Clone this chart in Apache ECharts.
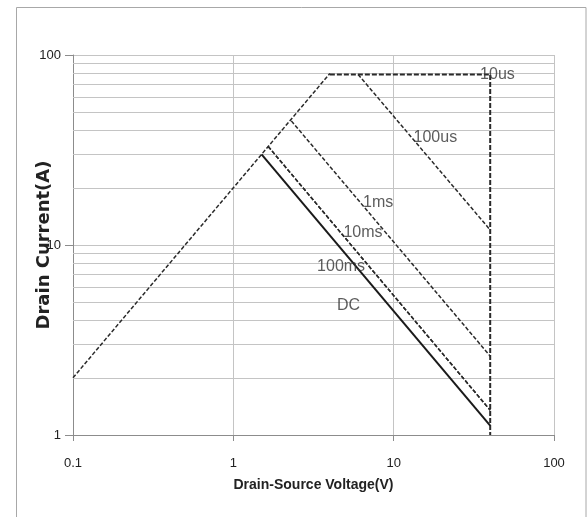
<!DOCTYPE html>
<html>
<head>
<meta charset="utf-8">
<script src="https://cdn.jsdelivr.net/npm/echarts@6/dist/echarts.min.js"></script>
<style>
html,body{margin:0;padding:0;background:#fff;}
#c{width:587px;height:517px;}
</style>
</head>
<body>
<div id="c"></div>
<script>
// Safe operating area data (Vds in V, Id in A)
const limitV = [0.1, 4];
const limitI = [2, 80];
const us10V = [4, 40, 40];
const us10I = [79, 79, 1];
const us100V = [6, 40];
const us100I = [79, 12];
const ms1V = [2.3, 40];
const ms1I = [45, 2.6];
const ms10V = [1.65, 40];
const ms10I = [33, 1.35];
const ms100V = [1.65, 40];
const ms100I = [33, 1.35];
const dcV = [1.5, 40];
const dcI = [30, 1.12];
// curve labels and their anchor positions (data coords)
const labelNames = ['10us', '100us', '1ms', '10ms', '100ms', 'DC'];
const labelV = [44.4, 18.2, 8.0, 6.44, 4.7, 5.23];
const labelI = [78.5, 36.6, 16.8, 11.6, 7.66, 4.78];
// minor horizontal grid values
const minorY = [2, 3, 4, 5, 6, 7, 8, 9, 20, 30, 40, 50, 60, 70, 80, 90];

const pair = (xs, ys) => xs.map((x, i) => [x, ys[i]]);
const sans = "'Liberation Sans', Arial, sans-serif";

const dashStyle = (w, d) => ({ color: '#2a2a2a', width: w, type: d });
const lineSeries = (name, xs, ys, style) => ({
  name, type: 'line', data: pair(xs, ys), showSymbol: false, symbol: 'none', z: 5,
  lineStyle: style
});

const chart = echarts.init(document.getElementById('c'), null, { renderer: 'canvas' });
chart.setOption({
  animation: false,
  backgroundColor: '#fff',
  grid: { left: 73, right: 33, top: 55, bottom: 82 },
  graphic: [{
    type: 'rect',
    shape: { x: 16.5, y: 7.5, width: 569.5, height: 530 },
    style: { fill: 'none', stroke: '#a8a8a8', lineWidth: 1 },
    silent: true
  }],
  xAxis: {
    type: 'log', logBase: 10, min: 0.1, max: 100,
    name: 'Drain-Source Voltage(V)', nameLocation: 'middle', nameGap: 43, nameMoveOverlap: false,
    nameTextStyle: { fontFamily: sans, fontWeight: 'bold', fontSize: 14, color: '#222' },
    axisLine: { show: true, lineStyle: { color: '#8c8c8c', width: 1 } },
    axisTick: { show: true, length: 6, lineStyle: { color: '#8c8c8c' } },
    axisLabel: { fontFamily: sans, fontSize: 13, color: '#222', margin: 22,
      formatter: v => String(+v.toPrecision(3)) },
    splitLine: { show: true, lineStyle: { color: '#c4c4c4', width: 1 } },
    minorTick: { show: false }, minorSplitLine: { show: false }
  },
  yAxis: {
    type: 'log', logBase: 10, min: 1, max: 100,
    name: 'Drain Current(A)', nameLocation: 'middle', nameGap: 20, nameRotate: 90, nameMoveOverlap: false,
    nameTextStyle: { fontFamily: "'DejaVu Sans', sans-serif", fontWeight: 'bold', fontSize: 18, color: '#222' },
    axisLine: { show: true, lineStyle: { color: '#8c8c8c', width: 1 } },
    axisTick: { show: true, length: 8, lineStyle: { color: '#8c8c8c' } },
    axisLabel: { fontFamily: sans, fontSize: 13, color: '#222', margin: 12,
      formatter: v => String(+v.toPrecision(3)) },
    splitLine: { show: true, lineStyle: { color: '#c4c4c4', width: 1 } }
  },
  series: [
    {
      name: 'grid-minor', type: 'line', data: [], silent: true, z: 1,
      markLine: {
        silent: true, symbol: ['none', 'none'], animation: false,
        label: { show: false },
        lineStyle: { color: '#c4c4c4', width: 1, type: 'solid' },
        data: minorY.map(v => ({ yAxis: v }))
      }
    },
    lineSeries('limit', limitV, limitI, dashStyle(1.5, [4, 2])),
    lineSeries('10us', us10V, us10I, dashStyle(2, [5, 2])),
    lineSeries('100us', us100V, us100I, dashStyle(1.5, [4, 2])),
    lineSeries('1ms', ms1V, ms1I, dashStyle(1.5, [4, 2])),
    lineSeries('10ms', ms10V, ms10I, dashStyle(1.5, [4, 2])),
    lineSeries('100ms', ms100V, ms100I, dashStyle(1.5, [4, 2])),
    lineSeries('DC', dcV, dcI, { color: '#1a1a1a', width: 2, type: 'solid' }),
    {
      name: 'labels', type: 'scatter', symbolSize: 1, z: 6, silent: true,
      itemStyle: { color: 'rgba(0,0,0,0)' },
      data: labelNames.map((n, i) => ({ name: n, value: [labelV[i], labelI[i]] })),
      label: { show: true, position: 'inside', formatter: '{b}',
        fontFamily: sans, fontSize: 16, color: '#333' }
    }
  ]
});
</script>
</body>
</html>
